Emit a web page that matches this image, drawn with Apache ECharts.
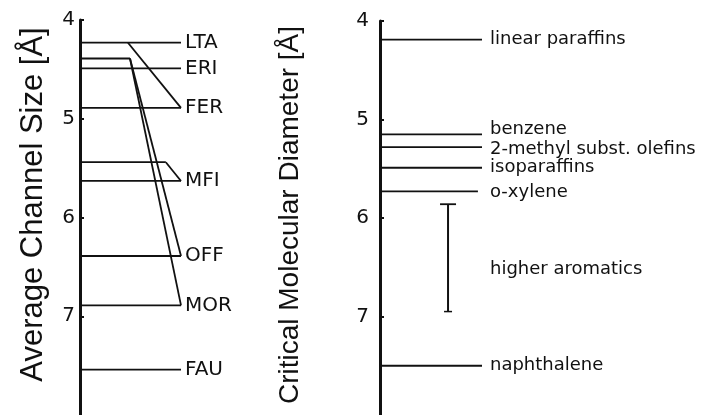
<!DOCTYPE html>
<html>
<head>
<meta charset="utf-8">
<script src="https://cdn.jsdelivr.net/npm/echarts@6/dist/echarts.min.js"></script>
<style>html,body{margin:0;padding:0;background:#fff}#c{width:723px;height:415px}</style>
</head>
<body>
<div id="c"></div>
<script>
// ---- Left panel: zeolite channel sizes (Å) ----
const zeoliteNames = ['LTA', 'ERI', 'FER', 'MFI', 'OFF', 'MOR', 'FAU'];
const zeoliteSizes = [4.23, 4.49, 4.89, 5.63, 6.39, 6.89, 7.54];
// smaller second channel: level it starts from, where it bends, which zeolite it joins
const secondLevels = [4.23, 4.39, 4.39, 5.44];
const secondBendAt = [0.475, 0.495, 0.495, 0.85];
const secondTargets = ['FER', 'OFF', 'MOR', 'MFI'];

// ---- Right panel: critical molecular diameters (Å) ----
const moleculeNames = ['linear paraffins', 'benzene', '2-methyl subst. olefins', 'isoparaffins', 'o-xylene', 'naphthalene'];
const moleculeSizes = [4.19, 5.15, 5.28, 5.49, 5.73, 7.50];
const moleculeEnds = [1, 1, 1, 1, 0.96, 1];
const aromaticsName = 'higher aromatics';
const aromaticsRange = [5.86, 6.95];
const aromaticsX = 0.667;
const aromaticsLabelAt = 6.52;

const axisTicks = [4, 5, 6, 7];

const INK = '#111111';
// small vertical nudges of crowded labels (style only)
const labelNudge = { 'benzene': -5, '2-methyl subst. olefins': 2, 'o-xylene': 1 };

// build segments [x1, y1, x2, y2]
const leftSegs = [];
zeoliteSizes.forEach(v => leftSegs.push([0, v, 1, v]));
const seenLevels = {};
secondLevels.forEach((lv, i) => {
  const t = zeoliteSizes[zeoliteNames.indexOf(secondTargets[i])];
  if (!zeoliteSizes.includes(lv) && !seenLevels[lv]) {
    leftSegs.push([0, lv, secondBendAt[i], lv]);
    seenLevels[lv] = true;
  }
  leftSegs.push([secondBendAt[i], lv, 1, t]);
});
const rightSegs = moleculeSizes.map((v, i) => [0, v, moleculeEnds[i], v]);

function segRender(params, api) {
  const p1 = api.coord([api.value(0), api.value(1)]);
  const p2 = api.coord([api.value(2), api.value(3)]);
  return {
    type: 'line',
    shape: { x1: p1[0], y1: p1[1], x2: p2[0], y2: p2[1] },
    style: { stroke: INK, lineWidth: 1.8 }
  };
}

function errRender(params, api) {
  const top = api.coord([api.value(0), api.value(1)]);
  const bot = api.coord([api.value(0), api.value(2)]);
  return {
    type: 'group',
    children: [
      { type: 'line', shape: { x1: top[0], y1: top[1], x2: bot[0], y2: bot[1] }, style: { stroke: INK, lineWidth: 2 } },
      { type: 'line', shape: { x1: top[0] - 8, y1: top[1], x2: top[0] + 8, y2: top[1] }, style: { stroke: INK, lineWidth: 1.8 } },
      { type: 'line', shape: { x1: bot[0] - 4, y1: bot[1], x2: bot[0] + 4, y2: bot[1] }, style: { stroke: INK, lineWidth: 1.5 } }
    ]
  };
}

function yAxisCfg(gridIndex, name, nameGap, labelMargin, nameSize, namePad) {
  return {
    gridIndex: gridIndex, type: 'value', inverse: true, min: 4, max: 8, interval: 1,
    name: name, nameLocation: 'middle', nameGap: nameGap,
    nameTextStyle: { fontFamily: 'Liberation Sans', fontSize: nameSize, color: INK, padding: namePad },
    axisLine: { show: true, lineStyle: { color: INK, width: 3 } },
    axisTick: { show: true, inside: true, length: 4, lineStyle: { color: INK, width: 2 } },
    axisLabel: { fontFamily: 'DejaVu Sans', fontSize: 20, color: INK, margin: labelMargin, showMaxLabel: false,
      formatter: v => axisTicks.includes(v) ? String(v) : '' },
    splitLine: { show: false }
  };
}

function labelItems(names, values, x) {
  return names.map((n, i) => {
    const item = { name: n, value: [x, values[i]] };
    if (labelNudge[n]) item.label = { offset: [0, labelNudge[n]] };
    return item;
  });
}

const chart = echarts.init(document.getElementById('c'));
chart.setOption({
  animation: false,
  backgroundColor: '#fff',
  grid: [
    { left: 80, top: 20, width: 101, height: 398 },
    { left: 380, top: 21, width: 102, height: 398 }
  ],
  xAxis: [
    { gridIndex: 0, type: 'value', min: 0, max: 1, show: false },
    { gridIndex: 1, type: 'value', min: 0, max: 1, show: false }
  ],
  yAxis: [
    yAxisCfg(0, 'Average Channel Size [Å]', 31, 5, 31, [0, 0, 0, 26]),
    yAxisCfg(1, 'Critical Molecular Diameter [Å]', 76, 11, 28, [0, 0, 0, 6])
  ],
  series: [
    { type: 'custom', xAxisIndex: 0, yAxisIndex: 0, renderItem: segRender, data: leftSegs, clip: false, silent: true },
    { type: 'custom', xAxisIndex: 1, yAxisIndex: 1, renderItem: segRender, data: rightSegs, clip: false, silent: true },
    { type: 'custom', xAxisIndex: 1, yAxisIndex: 1, renderItem: errRender, data: [[aromaticsX, aromaticsRange[0], aromaticsRange[1]]], clip: false, silent: true },
    {
      type: 'scatter', xAxisIndex: 0, yAxisIndex: 0, symbolSize: 0, silent: true,
      itemStyle: { opacity: 1 },
      data: labelItems(zeoliteNames, zeoliteSizes, 1),
      label: { show: true, position: 'right', distance: 4, formatter: '{b}', fontFamily: 'DejaVu Sans', fontSize: 20, color: INK }
    },
    {
      type: 'scatter', xAxisIndex: 1, yAxisIndex: 1, symbolSize: 0, silent: true,
      itemStyle: { opacity: 1 },
      data: labelItems(moleculeNames.concat([aromaticsName]), moleculeSizes.concat([aromaticsLabelAt]), 1),
      label: { show: true, position: 'right', distance: 8, formatter: '{b}', fontFamily: 'DejaVu Sans', fontSize: 18, color: INK }
    }
  ]
});
</script>
</body>
</html>
